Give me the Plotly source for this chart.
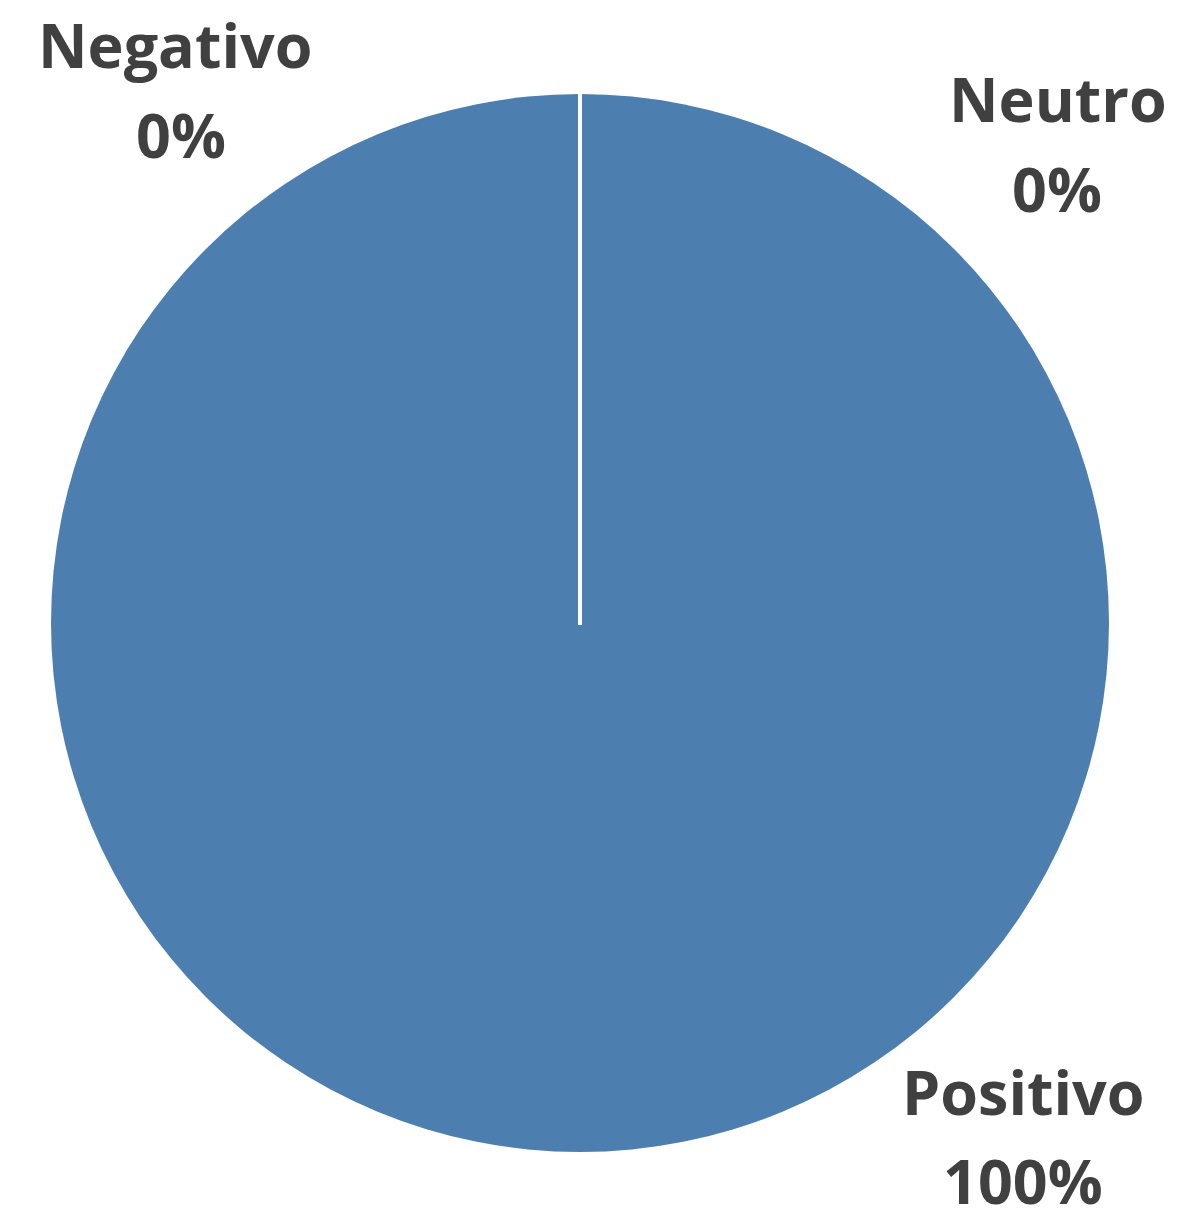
import plotly.graph_objects as go

# Data
labels = ["Positivo", "Negativo", "Neutro"]
values = [100, 0, 0]

W, H = 1178, 1215
OFF = 8  # page body margin in the viewer
total = sum(values)
pct = [f"{round(v / total * 100)}%" for v in values]

# pie geometry (page pixels -> figure pixels)
cx, cy, r = 580 - OFF, 623 - OFF, 529
dom_x = [(cx - r) / W, (cx + r) / W]
dom_y = [1 - (cy + r) / H, 1 - (cy - r) / H]

fig = go.Figure(go.Pie(
    labels=labels,
    values=values,
    sort=False,
    direction="clockwise",
    rotation=0,
    textinfo="none",
    hoverinfo="label+percent",
    marker=dict(colors=["#4C7FAF", "#4C7FAF", "#4C7FAF"], line=dict(width=0)),
    domain=dict(x=dom_x, y=dom_y),
    showlegend=False,
))

# white slice boundary from centre to top
fig.add_shape(type="line", xref="paper", yref="paper",
              x0=cx / W, x1=cx / W, y0=1 - (cy + 2) / H, y1=1 - (cy - r - 2) / H,
              line=dict(color="white", width=4), layer="above")

# label positions (page pixel centres: x1, y1 for name line, x2, y2 for percent line)
label_pos = {
    "Negativo": (175, 44, 181, 134),
    "Neutro": (1058, 99, 1057, 188),
    "Positivo": (1023, 1091, 1023, 1180),
}
font = dict(family="Open Sans", size=61, color="#404040")
for lab, p in zip(labels, pct):
    x1, y1, x2, y2 = label_pos[lab]
    for txt, x, y in ((lab, x1, y1), (p, x2, y2)):
        fig.add_annotation(x=(x - OFF) / W, y=1 - (y - OFF) / H, xref="paper", yref="paper",
                           text=f"<b>{txt}</b>", showarrow=False,
                           xanchor="center", yanchor="middle", font=font)

fig.update_layout(width=W, height=H, margin=dict(l=0, r=0, t=0, b=0),
                  paper_bgcolor="white", plot_bgcolor="white")
fig.write_html("out.html")
